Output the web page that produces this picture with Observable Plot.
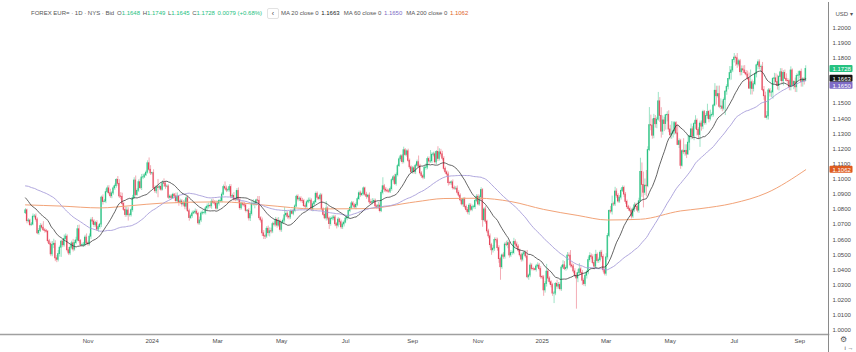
<!DOCTYPE html>
<html>
<head>
<meta charset="utf-8">
<script src="https://cdn.jsdelivr.net/npm/d3@7"></script>
<script src="https://cdn.jsdelivr.net/npm/@observablehq/plot@0.6"></script>
<style>
  body { margin: 0; background: #fff; }
  #wrap { position: relative; width: 856px; height: 352px; overflow: hidden; font-family: "Liberation Sans", Arial, sans-serif; }
  .hd { position: absolute; top: 10px; font-size: 6px; line-height: 6px; color: #555; white-space: nowrap; }
  .hd span { margin-right: 2.6px; }
  .g { color: #26c281; }
  .k { color: #222; }
  .p { color: #7e6bc6; }
  .o { color: #e0641f; }
  #btn { position: absolute; left: 267px; top: 8px; width: 10px; height: 9px; border: 1px solid #e2e2e2; border-radius: 2px; font-size: 7px; line-height: 9px; text-align: center; color: #444; }
</style>
</head>
<body>
<div id="wrap">
  <div id="chart"></div>
  <div class="hd" style="left:31px">FOREX EUR= · 1D · NYS · Bid</div>
  <div class="hd" style="left:117px"><span>O<b class="g" style="font-weight:normal">1.1648</b></span><span>H<b class="g" style="font-weight:normal">1.1749</b></span><span>L<b class="g" style="font-weight:normal">1.1645</b></span><span>C<b class="g" style="font-weight:normal">1.1728</b></span><span class="g">0.0079 (+0.68%)</span></div>
  <div id="btn">‹</div>
  <div class="hd" style="left:281px"><span>MA 20 close 0</span><span class="k" style="margin-right:4px">1.1663</span><span>MA 60 close 0</span><span class="p" style="margin-right:4px">1.1650</span><span>MA 200 close 0</span><span class="o">1.1062</span></div>
</div>
<script>
// ---- DATA (EUR/USD daily, prices in pips: 10794 = 1.0794) ----
// closes before the visible window (Jun 12 – Sep 1, 2023), only used for the moving averages
const priorCloses = [
  10759,10791,10832,10945,10939, 10923,10917,10989,10956,10894, 10905,10960,10911,10867,10909,
  10911,10882,10852,10889,10969, 10969,11010,11129,11228,11228, 11237,11228,11200,11128,11124, 11064,11058,11086,10973,11016, 10999,
  10983,10939,10945,11006, 11004,10957,10974,10982,10949, 10905,10904,10875,10874,10872, 10894,10845,10862,10806,10797, 10818,10877,10924,10843,
  10775
];
// visible daily closes, Sep 4 2023 – Sep 5 2025 (weekdays)
const closes = [
  // Sep 2023
  10794,10722,10726,10697,10700, 10752,10753,10732,10642,10658, 10690,10679,10662,10659,10653, 10590,10571,10503,10566,10573,
  // Oct 2023
  10477,10467,10505,10547,10587, 10563,10605,10620,10530,10509, 10547,10576,10535,10578,10595, 10669,10591,10564,10564,10566, 10614,10576,
  // Nov 2023
  10570,10620,10728, 10720,10697,10710,10667,10683, 10700,10878,10849,10852,10914, 10939,10907,10887,10906,10939, 10954,10995,10969,10886,
  // Dec 2023
  10883, 10836,10797,10763,10793,10762, 10762,10795,10875,10991,10895, 10923,10980,10941,11011,11012, 11025,11043,11105,11062,11038,
  // Jan 2024
  11040,10940,10920,10946,10942, 10949,10930,10972,10970,10951, 10951,10877,10885,10875,10897, 10886,10855,10885,10843,10853, 10833,10845,10818,
  // Feb 2024
  10873,10788, 10743,10755,10773,10779,10785, 10771,10708,10727,10773,10777, 10777,10807,10818,10823,10821, 10851,10844,10839,10805,
  // Mar 2024
  10838, 10855,10856,10898,10948,10938, 10925,10927,10948,10884,10889, 10867,10865,10922,10861,10808, 10837,10831,10826,10790,10792,
  // Apr 2024
  10741,10770,10836,10836,10838, 10860,10857,10742,10727,10642, 10623,10620,10672,10643,10656, 10654,10703,10699,10731,10693, 10720,10665,
  // May 2024
  10712,10726,10761, 10771,10752,10747,10784,10771, 10790,10820,10884,10866,10871, 10857,10855,10822,10817,10847, 10857,10858,10801,10834,10848,
  // Jun 2024
  10903,10877,10869,10892,10800, 10764,10741,10806,10740,10703, 10737,10741,10747,10702,10693, 10733,10715,10682,10701,10713,
  // Jul 2024
  10740,10746,10790,10810,10840, 10826,10814,10830,10868,10907, 10894,10902,10939,10897,10883, 10891,10847,10843,10850,10856, 10820,10817,10825,
  // Aug 2024
  10789,10910, 10953,10931,10924,10919,10917, 10934,10993,11012,10968,11027, 11086,11131,11151,11113,11191, 11160,11184,11121,11078,11047,
  // Sep 2024
  11072,11046,11089,11112,11084, 11038,11019,11010,11075,11076, 11133,11116,11118,11161,11164, 11111,11180,11134,11177,11164, 11135,
  // Oct 2024
  11068,11045,11031,10974, 10973,10979,10940,10937,10937, 10910,10891,10860,10833,10867, 10817,10796,10781,10825,10797, 10815,10815,10856,10884,
  // Nov 2024
  10833, 10880,10928,10729,10800,10719, 10655,10622,10564,10530,10541, 10598,10596,10544,10472,10418, 10496,10487,10568,10564,10577,
  // Dec 2024
  10496,10512,10512,10585,10568, 10554,10528,10497,10468,10502, 10512,10489,10352,10363,10429, 10406,10405,10400,10423,10429, 10406,10354,
  // Jan 2025
  10351,10265,10307, 10389,10343,10319,10300,10244, 10244,10308,10290,10301,10273, 10416,10431,10406,10413,10495, 10494,10430,10423,10390,10362,
  // Feb 2025
  10344,10379,10404,10381,10329, 10307,10362,10384,10465,10492, 10484,10446,10422,10500,10459, 10465,10514,10486,10398,10375,
  // Mar 2025
  10483,10625,10790,10785,10834, 10833,10918,10890,10852,10878, 10922,10942,10898,10850,10815, 10802,10791,10753,10799,10827, 10816,
  // Apr 2025
  10792,10854,11048,10962, 10910,10957,10953,11192,11357, 11354,11287,11398,11363,11393, 11514,11418,11314,11388,11364, 11422,11425,11328,
  // May 2025
  11290,11301, 11316,11370,11302,11226,11251, 11088,11185,11178,11187,11163, 11241,11282,11329,11282,11364, 11386,11325,11292,11367,11347,
  // Jun 2025
  11443,11371,11417,11444,11396, 11420,11424,11486,11584,11548, 11562,11478,11480,11465,11523, 11578,11610,11662,11701,11718, 11787,
  // Jul 2025
  11803,11799,11757,11779, 11707,11726,11718,11701,11691, 11663,11598,11640,11596,11627, 11693,11752,11772,11742,11742, 11588,11548,11405,11415,
  // Aug 2025
  11586, 11571,11573,11662,11666,11642, 11615,11675,11706,11648,11702, 11663,11649,11648,11608,11718, 11621,11642,11607,11682,11685,
  // Sep 2025
  11708,11642,11659,11648,11728
];
// upper wick above the body, in pips
const upWick = [
  11,8,12,9,13, 18,13,17,12,16, 16,13,40,12,8, 6,12,14,22,30,
  20,18,23,12,10, 15,26,18,12,18, 14,14,26,18,21, 25,27,10,14,16, 15,24,
  15,18,16,19,12, 11,15,14,8,10, 18,14,20,16,18, 26,12,14,14,8, 22,28,
  25,24,12,17,22, 18,12,14,18,18, 30,14,15,20,20, 21,12,12,16,35,27,
  6,22,15,10,52, 10,14,16,30,16, 12,11,12,9,10, 8,22,24,4,15, 12,14,18,
  13,16,14,12,16, 12,18,13,10,22, 14,14,10,12,18, 18,12,15,16,14, 18,
  16,10,22,14,13, 33,16,14,15,16, 12,22,9,15,20, 12,12,14,16,12, 6,
  14,18,16,28,16, 8,25,28,11,16, 18,10,14,18,22, 20,12,15,16,12, 26,10,
  10,16,51,17,14, 12,12,14,12,12, 10,13,11,13,16, 11,14,14,18,18, 12,16,10,
  12,12,12,14,10, 10,15,46,12,10, 13,17,14,14,12, 14,8,14,15,14,
  16,14,8,10,13, 12,12,14,13,14, 14,12,9,8,16, 10,18,20,21,14, 12,12,22,
  18,16,56,12,14, 10,14,14,10,12, 20,14,12,14,10, 12,20,11,10,14, 12,10,
  12,14,10,14,41, 14,12,12,12,25, 13,14,71,14,14, 14,8,34,24,20, 20,
  14,12,10,16,12, 10,16,14,14,18, 14,12,12,10,12, 12,16,14,12,14, 12,12,14,
  14,14,15,9,12, 20,10,14,16,12, 20,14,14,14,16, 12,10,18,14,22, 18,
  10,16,12,24,14, 16,12,10,14,14, 16,14,40,10,16, 12,12,6,14,18, 14,16,
  10,12,16,48,16, 12,10,12,14,8, 24,16,14,14,30, 24,14,20,18,34, 16,14,18,
  18,22,38,16,16, 16,16,12,20,22, 14,16,16,30,12, 14,14,16,14,16,
  24,16,7,30,54, 14,28,18,14,14, 14,13,12,14,12, 12,14,12,14,16, 14,
  14,20,90,59,85, 44,100,22,116,66, 40,30,22,16,59, 25,54,30,20,6, 20,27,
  28,79,63,10,10, 58,15,12,10,82, 40,40,46,8,35, 17,12,33,12,14, 17,18,
  12,10,17,51,10, 36,14,9,47,30, 52,53,50,36,13, 6,15,3,43,25, 2,
  27,12,31,13,12, 22,22,32,17,23, 38,81,15,17,9, 8,16,16,12,29, 24,27,32,
  12,13,11,10,33, 30,45,9,24,24, 14,19,33,15,7, 24,10,8,26,14, 28,
  9,19,11,11,21
];
// lower wick below the body, in pips
const downWick = [
  8,17,10,11,8, 8,9,16,9,13, 11,13,7,16,8, 14,9,15,16,25,
  22,19,14,20,64, 16,12,9,12,14, 14,14,16,11,12, 9,14,12,12,13, 14,13,
  14,12,18,22,16, 14,12,18,14,20, 20,5,14,10,12, 14,16,12,14,14, 16,14,
  20,13,10,15,14, 39,13,12,14,9, 12,8,12,10,16, 14,8,8,10,12,14,
  12,5,15,18,65, 14,12,8,22,18, 8,10,14,10,8, 11,16,8,22,8, 18,12,20,
  22,7,21,10,14, 8,11,12,12,13, 14,11,12,14,14, 16,14,20,12,16, 10,
  8,16,12,14,8, 12,14,12,13,14, 14,13,14,14,15, 14,12,14,14,13, 8,
  18,21,14,14,32, 16,14,14,17,20, 22,19,12,20,25, 15,14,14,15,17, 10,14,
  16,12,18,16,16, 16,14,8,13,12, 8,16,14,14,16, 12,17,12,10,15, 14,17,14,
  10,16,12,14,10, 10,9,18,15,35, 14,12,16,16,22, 14,20,14,15,17,
  8,15,10,12,12, 18,10,16,12,10, 14,9,12,12,16, 12,16,14,12,12, 14,18,16,
  12,10,14,18,14, 10,12,12,14,12, 10,14,12,8,16, 14,12,10,14,12, 14,10,
  14,14,16,12,12, 12,14,14,12,16, 14,18,12,14,14, 12,16,18,14,18, 14,
  14,14,16,20,14, 14,12,10,12,14, 12,10,10,20,14, 14,16,20,12,12, 12,16,12,
  10,12,14,47,10, 16,14,16,20,33, 18,18,18,20,28, 86,14,16,16,10, 24,
  18,14,14,12,16, 16,14,12,16,14, 14,14,10,20,14, 12,12,6,14,12, 12,14,
  14,39,18,20,22, 18,18,18,66,14, 18,16,12,14,14, 10,14,12,14,16, 14,14,12,
  203,28,18,16,32, 14,18,22,16,14, 16,12,22,18,14, 16,12,14,16,14,
  16,18,12,14,22, 14,14,16,12,12, 16,10,20,16,14, 14,12,16,14,18, 16,
  14,18,6,82,100, 19,70,10,10,34, 23,20,26,30,10, 44,43,24,50,40, 44,21,
  25,27,29,25,8, 4,24,23,8,16, 27,27,5,53,22, 20,28,35,40,30, 82,30,
  20,14,14,20,24, 12,14,14,8,59, 12,12,20,20,14, 103,24,20,12,47, 14,
  20,54,25,15,25, 24,20,11,11,10, 4,42,40,20,10, 24,29,20,33,10, 27,3,15,
  24,29,33,45,34, 14,26,32,29,18, 32,5,7,23,24, 25,8,30,34,35, 33,
  23,34,34,26,3
];
// 200-day moving average (bar index, value)
const ma200Bar = [0,24,50,71,91,131,161,195,228,262,281,304,326,348,371,391,413,440,453,475,498,524];
const ma200Val = [1.0830,1.0822,1.0810,1.0825,1.0841,1.0850,1.0828,1.0803,1.0805,1.0850,1.0872,1.0874,1.0852,1.0800,1.0760,1.0730,1.0735,1.0790,1.0805,1.0840,1.0910,1.1062];
// axis labels
const monthLabels = ["Jan","Feb","Mar","Apr","May","Jun","Jul","Aug","Sep","Oct","Nov","Dec"];
const priceTicks = [1.00,1.01,1.02,1.03,1.04,1.05,1.06,1.07,1.08,1.09,1.10,1.11,1.12,1.13,1.14,1.15,1.16,1.17,1.18,1.19,1.20];
const firstDay = "2023-09-04";

// ---- colours / layout ----
const UP = "#26c281", DN = "#e5475c";
const C20 = "#333333", C60 = "#a69cd9", C200 = "#f2a378";
const W = 856, H = 352, mT = 5, mB = 18, mR = 28, mL = 0;
const xDom = [-16.8, 539.3];
const yDom = [0.99736, 1.21473];
const pxPerUnit = (H - mT - mB) / (yDom[1] - yDom[0]);
const pxPerBar = (W - mL - mR) / (xDom[1] - xDom[0]);
const yPx = v => mT + (yDom[1] - v) * pxPerUnit;
const yVal = p => yDom[1] - (p - mT) / pxPerUnit;

// ---- build table ----
const P = 10000;
const all = priorCloses.concat(closes).map(v => v / P);
const off = priorCloses.length;
const dates = [];
for (let d = new Date(firstDay + "T00:00:00Z"); dates.length < closes.length; d = new Date(d.getTime() + 864e5)) {
  const w = d.getUTCDay();
  if (w !== 0 && w !== 6) dates.push(d);
}
const bars = closes.map((c, i) => {
  const close = c / P, open = all[off + i - 1];
  return {
    i, date: dates[i], open, close,
    high: Math.max(open, close) + (upWick[i] ?? 10) / P,
    low: Math.min(open, close) - (downWick[i] ?? 10) / P,
    color: close >= open ? UP : DN
  };
});
const sma = n => closes.map((_, i) => ({i, v: d3.mean(all.slice(off + i - n + 1, off + i + 1))}));
const ma20 = sma(20), ma60 = sma(60);
const ma200 = ma200Bar.map((b, k) => ({i: b, v: ma200Val[k]}));

// month ticks
const xTicks = [], xTickText = new Map();
for (let i = 1; i < dates.length; i++) {
  const m = dates[i].getUTCMonth();
  if (m !== dates[i - 1].getUTCMonth() && m % 2 === 0) {
    xTicks.push(i);
    xTickText.set(i, m === 0 ? String(dates[i].getUTCFullYear()) : monthLabels[m]);
  }
}

// price labels on the right axis
const last = bars[bars.length - 1];
const boxes = [
  {v: last.close, fill: last.color},
  {v: ma20[ma20.length - 1].v, fill: "#131313"},
  {v: ma60[ma60.length - 1].v, fill: "#7e6bc6"},
  {v: ma200[ma200.length - 1].v, fill: "#de5b1f"}
];
const boxH = 7;
boxes.sort((a, b) => yPx(a.v) - yPx(b.v));
let prev = -Infinity;
for (const b of boxes) {
  let p = Math.max(yPx(b.v), prev + boxH);
  b.yc = yVal(p); b.y1 = yVal(p - boxH / 2); b.y2 = yVal(p + boxH / 2);
  prev = p;
}
const visibleTicks = priceTicks.filter(t => boxes.every(b => Math.abs(yPx(t) - yPx(b.yc)) > 5));
const bx1 = xDom[1] + 1.5 / pxPerBar, bx2 = xDom[1] + 24.5 / pxPerBar;

const chart = Plot.plot({
  width: W, height: H,
  marginLeft: mL, marginRight: mR, marginTop: mT, marginBottom: mB,
  x: {domain: xDom, axis: null},
  y: {domain: yDom, axis: null},
  color: {type: "identity"},
  style: {fontFamily: "Liberation Sans, Arial, sans-serif", fontSize: "6px", color: "#4a4a4a", background: "transparent", overflow: "visible"},
  marks: [
    Plot.ruleX(bars, {x: "i", y1: "low", y2: "high", stroke: "color", strokeOpacity: 0.45, strokeWidth: 1}),
    Plot.rect(bars, {x1: d => d.i - 0.4, x2: d => d.i + 0.4, y1: "open", y2: "close", fill: "color", insetTop: -0.4, insetBottom: -0.4}),
    Plot.line(ma200, {x: "i", y: "v", stroke: C200, strokeWidth: 1, curve: "monotone-x"}),
    Plot.line(ma60, {x: "i", y: "v", stroke: C60, strokeWidth: 0.9}),
    Plot.line(ma20, {x: "i", y: "v", stroke: C20, strokeWidth: 0.9, strokeOpacity: 0.85}),
    Plot.frame({anchor: "bottom", stroke: "#a0a0a0", strokeWidth: 1.6}),
    Plot.ruleX([xDom[1]], {y1: yDom[1] + 3 / pxPerUnit, y2: yVal(H), stroke: "#8a8a8a", strokeWidth: 1}),
    Plot.axisX({ticks: xTicks, tickFormat: i => xTickText.get(i), tickSize: 0, tickPadding: 4}),
    Plot.axisY({anchor: "right", ticks: visibleTicks, tickFormat: d => d.toFixed(4), tickSize: 0, tickPadding: 4}),
    Plot.rect(boxes, {x1: bx1, x2: bx2, y1: "y1", y2: "y2", fill: "fill", rx: 1}),
    Plot.text(boxes, {x: bx1, y: "yc", text: d => d.v.toFixed(4), fill: "white", textAnchor: "start", dx: 2.5, fontSize: 6}),
    Plot.text(["USD ▾"], {frameAnchor: "top-right", textAnchor: "start", dx: 7, dy: 6, fill: "#555"}),
    Plot.text(["⚙"], {frameAnchor: "bottom-right", textAnchor: "middle", dx: 15, dy: 7, fontSize: 8, fill: "#555"})
  ]
});
document.getElementById("chart").appendChild(chart);
</script>
</body>
</html>
